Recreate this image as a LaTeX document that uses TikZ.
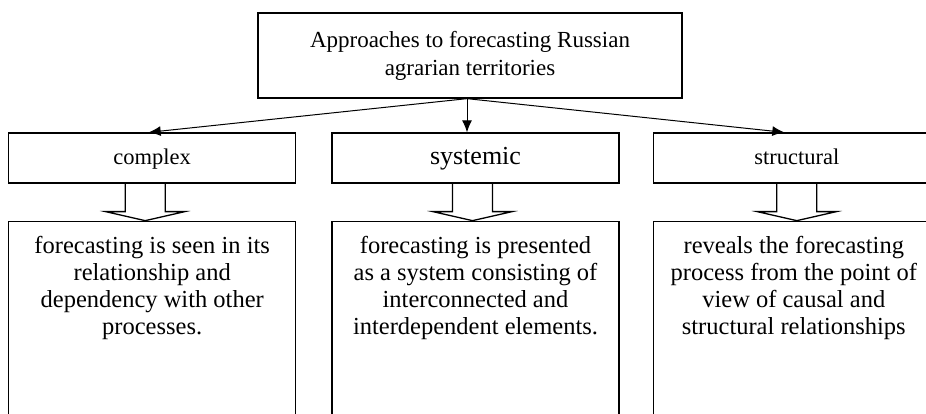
\documentclass[tikz,border=0pt]{standalone}
\usepackage{fontspec}
\setmainfont{Liberation Serif}
\usetikzlibrary{arrows.meta,positioning,calc}

\begin{document}
\begin{tikzpicture}[>={Latex[length=12pt,width=10pt]},x=1pt,y=-1pt,node distance=35pt]
\tikzstyle{box}=[rectangle,draw,line width=1.3pt,minimum width=287pt,minimum height=50pt,inner sep=0pt,text height=16pt,text depth=3pt,font=\fontsize{22.5}{27}\selectfont]
\tikzstyle{panel}=[rectangle,draw,line width=1.3pt,minimum width=287pt,minimum height=220pt]
\tikzstyle{paneltext}=[align=center,inner sep=0pt,font=\fontsize{24.5}{27}\selectfont]
\clip (0,0) rectangle (926,414);
\node[rectangle,draw,line width=1.3pt,minimum width=424pt,minimum height=85pt,align=center,font=\fontsize{23}{28}\selectfont] (top) at (470,55.5) {Approaches to forecasting Russian\\agrarian territories};
\node[box,font=\fontsize{26}{30}\selectfont] (systemic) at (475.5,158) {systemic};
\node[box,left=of systemic] (complex) {complex};
\node[box,right=33pt of systemic] (structural) {structural};
\node[panel,below=37pt of complex] (complexp) {};
\node[panel,below=37pt of systemic] (systemicp) {};
\node[panel,below=37pt of structural] (structuralp) {};
\node[paneltext,below=15pt of complexp.north] (complext) {forecasting is seen in its\\relationship and\\dependency with other\\processes.};
\node[paneltext,below=15pt of systemicp.north] (systemict) {forecasting is presented\\as a system consisting of\\interconnected and\\interdependent elements.};
\node[paneltext,below=15pt of structuralp.north,xshift=-3pt] (structuralt) {reveals the forecasting\\process from the point of\\view of causal and\\structural relationships};
\draw[->,line width=1pt] ([xshift=-3pt]top.south)--([xshift=-3.5pt]complex.north);
\draw[->,line width=1pt] ([xshift=-3pt]top.south)--([xshift=-8.5pt]systemic.north);
\draw[->,line width=1pt] ([xshift=-3pt]top.south)--([xshift=-12.5pt]structural.north);
% hollow arrows into the panels
\foreach \b/\dx in {complex/-7,systemic/-3,structural/0}
  \draw[line width=1.3pt] ($(\b.south)+(\dx-20,0)$) -- ++(0,28) -- ++(-19.5,0) -- ++(39.5,9) -- ++(39.5,-9) -- ++(-19.5,0) -- ++(0,-28);
\end{tikzpicture}
\end{document}
